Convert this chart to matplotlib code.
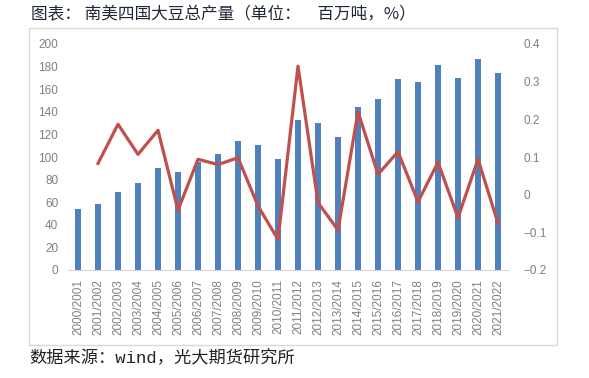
import matplotlib
matplotlib.use("Agg")
import matplotlib.pyplot as plt
from matplotlib.patches import Rectangle
from matplotlib.ticker import FuncFormatter

plt.rcParams['font.family'] = ['Noto Sans CJK SC', 'DejaVu Sans']
plt.rcParams['axes.unicode_minus'] = True

seasons = ["2000/2001", "2001/2002", "2002/2003", "2003/2004", "2004/2005", "2005/2006",
           "2006/2007", "2007/2008", "2008/2009", "2009/2010", "2010/2011", "2011/2012",
           "2012/2013", "2013/2014", "2014/2015", "2015/2016", "2016/2017", "2017/2018",
           "2018/2019", "2019/2020", "2020/2021", "2021/2022"]
production = [54, 58, 69, 77, 90, 87, 96, 103, 114, 111, 98, 133,
              130, 118, 144, 151, 169, 166, 181, 170, 187, 174]
growth = [None, 0.083, 0.187, 0.107, 0.171, -0.041, 0.094, 0.080, 0.098, -0.030, -0.119, 0.341,
          -0.021, -0.094, 0.220, 0.054, 0.114, -0.019, 0.086, -0.061, 0.094, -0.076]

W, H = 589, 378
fig = plt.figure(figsize=(W / 100, H / 100), dpi=100)
tick_font = 'Liberation Sans'
tick_color = '#808080'
tick_size = 8.5

# outer frame
fig.patches.append(Rectangle((29 / W, 1 - 345 / H), (557 - 29) / W, (345 - 28) / H,
                             transform=fig.transFigure, fill=False, edgecolor='#d9d9d9',
                             linewidth=1.0))

ax = fig.add_axes([68 / W, 1 - 270 / H, (508 - 68) / W, (270 - 44) / H])
x = list(range(len(seasons)))
ax.bar(x, production, width=0.33, color='#4f81bd', zorder=2)
ax.set_xlim(-0.5, len(seasons) - 0.5)
ax.set_ylim(0, 200)
ax.set_yticks(range(0, 201, 20))
ax.set_xticks(x)
ax.set_xticklabels(seasons, rotation=90)
for s in ['top', 'left', 'right']:
    ax.spines[s].set_visible(False)
ax.spines['bottom'].set_color('#d9d9d9')
ax.tick_params(axis='both', length=0, labelsize=tick_size, labelcolor=tick_color)
ax.tick_params(axis='y', pad=7)
ax.tick_params(axis='x', pad=6.5)
for lbl in ax.get_yticklabels() + ax.get_xticklabels():
    lbl.set_family(tick_font)

ax2 = ax.twinx()
gx = [i for i, v in enumerate(growth) if v is not None]
gy = [v for v in growth if v is not None]
ax2.plot(gx, gy, color='#c0504d', linewidth=2.3, zorder=3)
ax2.set_ylim(-0.2, 0.4)
ax2.set_yticks([-0.2, -0.1, 0, 0.1, 0.2, 0.3, 0.4])
ax2.yaxis.set_major_formatter(FuncFormatter(lambda v, p: f"{round(v, 1):g}".replace('-', '\u2212')))
for s in ['top', 'left', 'right', 'bottom']:
    ax2.spines[s].set_visible(False)
ax2.tick_params(axis='y', length=0, labelsize=tick_size, labelcolor=tick_color, pad=11)
for lbl in ax2.get_yticklabels():
    lbl.set_family(tick_font)

fig.text(31 / W, 1 - 15 / H, "图表： 南美四国大豆总产量（单位：\u3000百万吨，%）",
         fontsize=12, color='#202838', va='center', ha='left')
fig.text(29 / W, 1 - 358 / H, "数据来源：wind，光大期货研究所",
         fontsize=12.4, color='#222222', va='center', ha='left',
         family=['Liberation Mono', 'Noto Sans CJK SC'])

fig.savefig("out.png", dpi=100)
